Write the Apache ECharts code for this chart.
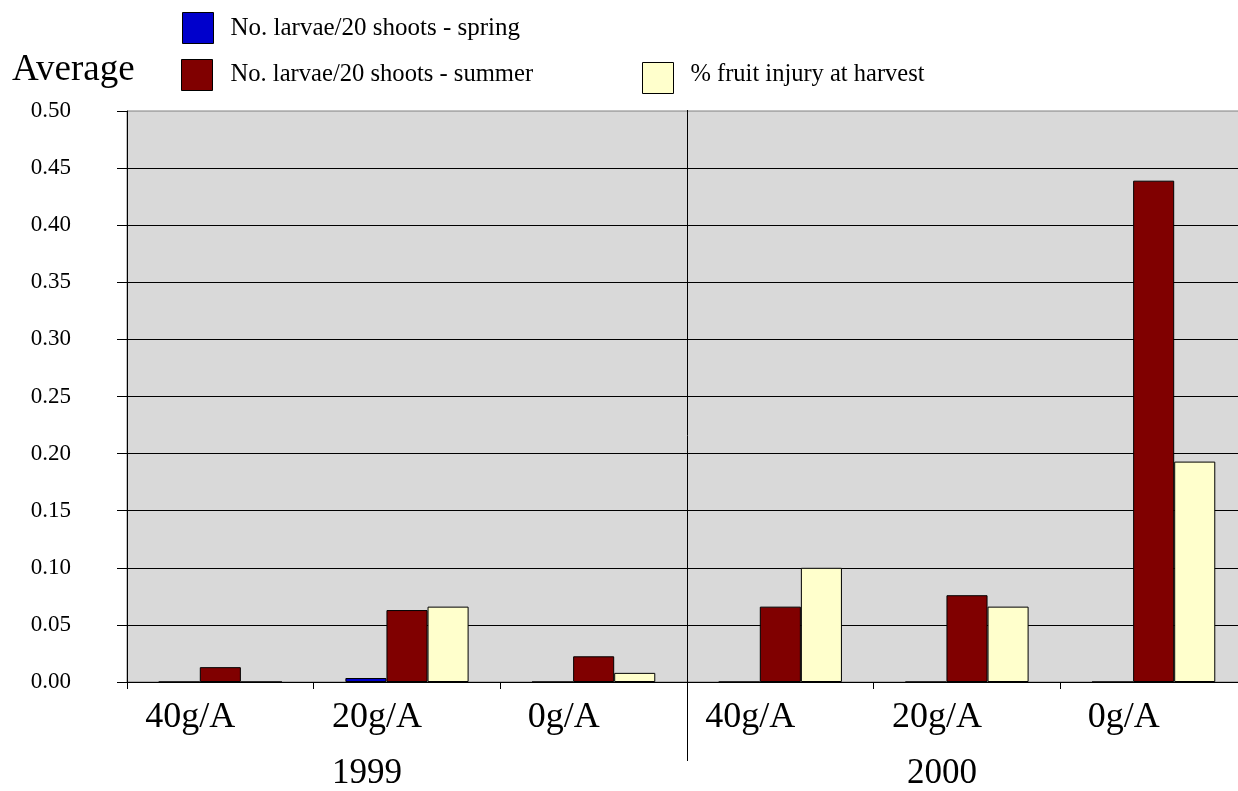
<!DOCTYPE html>
<html>
<head>
<meta charset="utf-8">
<script src="https://cdn.jsdelivr.net/npm/echarts@6/dist/echarts.min.js"></script>
<style>
html,body{margin:0;padding:0;background:#fff;overflow:hidden;}
#chart{width:1250px;height:791px;}
</style>
</head>
<body>
<div id="chart"></div>
<script>
const categories = ['40g/A', '20g/A', '0g/A', '40g/A', '20g/A', '0g/A'];
const years = ['1999', '2000'];
const seriesNames = ['No. larvae/20 shoots - spring', 'No. larvae/20 shoots - summer', '% fruit injury at harvest'];
const springValues = [0, 0.0035, 0, 0, 0, 0];
const summerValues = [0.013, 0.063, 0.0225, 0.066, 0.076, 0.439];
const fruitValues = [0, 0.066, 0.008, 0.100, 0.066, 0.193];
const yTicks = { min: 0, max: 0.5, interval: 0.05 };
const yTitle = 'Average';

const FONT = '"Liberation Serif", "Times New Roman", serif';
const chart = echarts.init(document.getElementById('chart'));

// group boundaries: start of first year, divider between years, end of last year
const groupBoundaries = [years[0], years[0] + '|' + years[1], years[1]];

function legendCfg(name, left, top, fontSize, pad) {
  return {
    data: [name], left: left, top: top, orient: 'horizontal',
    itemWidth: 31, itemHeight: 31, icon: 'rect', padding: 0,
    selectedMode: false,
    itemStyle: { borderColor: '#000', borderWidth: 1 },
    formatter: function (n) { return '{t|' + n + '}'; },
    textStyle: {
      fontFamily: FONT, fontSize: fontSize, color: '#000',
      rich: { t: { fontFamily: FONT, fontSize: fontSize, color: '#000', padding: pad } }
    }
  };
}

chart.setOption({
  animation: false,
  backgroundColor: '#fff',
  title: {
    text: yTitle, left: 12, top: 52, padding: 0,
    textStyle: { fontFamily: FONT, fontSize: 37, fontWeight: 'normal', color: '#000' }
  },
  grid: {
    left: 127, top: 111, width: 1120, height: 572,
    show: true, backgroundColor: '#d9d9d9', borderColor: '#808080', borderWidth: 1
  },
  legend: [
    legendCfg(seriesNames[0], 182, 12, 25, [0, 0, 0, 12]),
    legendCfg(seriesNames[1], 181, 59, 24.6, [0, 0, 0, 13]),
    legendCfg(seriesNames[2], 642, 62, 24.5, [0, 0, 6, 12])
  ],
  xAxis: [
    {
      type: 'category', data: categories, boundaryGap: true, position: 'bottom',
      axisLine: { show: true, lineStyle: { color: '#000', width: 1 } },
      axisTick: { show: true, length: 7, lineStyle: { color: '#000' } },
      axisLabel: { fontFamily: FONT, fontSize: 36, color: '#000', margin: 18, padding: [0, 60, 0, 0], interval: 0 }
    },
    {
      type: 'category', data: groupBoundaries, boundaryGap: false, position: 'bottom', offset: 79,
      axisLine: { show: false },
      axisTick: { show: true, inside: true, length: 651, interval: function (i) { return i === 1; }, lineStyle: { color: '#000', width: 1 } },
      axisLabel: { show: false }
    },
    {
      type: 'category',
      data: [
        { value: years[0], textStyle: { padding: [0, 80, 0, 0] } },
        { value: years[1], textStyle: { padding: [0, 50, 0, 0] } }
      ],
      boundaryGap: true, position: 'bottom', offset: 79,
      axisLine: { show: false }, axisTick: { show: false },
      axisLabel: { fontFamily: FONT, fontSize: 35, color: '#000', margin: -5, interval: 0 }
    }
  ],
  yAxis: {
    type: 'value', min: yTicks.min, max: yTicks.max, interval: yTicks.interval,
    axisLine: { show: true, lineStyle: { color: '#000', width: 1 } },
    axisTick: { show: true, length: 10, lineStyle: { color: '#000' } },
    axisLabel: { fontFamily: FONT, fontSize: 23, color: '#000', margin: 56, padding: [5, 0, 0, 0], formatter: function (v) { return v.toFixed(2); } },
    splitLine: { show: true, showMaxLine: false, lineStyle: { color: '#000', width: 1 } }
  },
  series: [
    { name: seriesNames[0], type: 'bar', data: springValues, barGap: '0%', barCategoryGap: '34%',
      itemStyle: { color: '#0000cc', borderColor: '#000', borderWidth: 1 } },
    { name: seriesNames[1], type: 'bar', data: summerValues, barGap: '0%', barCategoryGap: '34%',
      itemStyle: { color: '#800000', borderColor: '#000', borderWidth: 1 } },
    { name: seriesNames[2], type: 'bar', data: fruitValues, barGap: '0%', barCategoryGap: '34%',
      itemStyle: { color: '#ffffcc', borderColor: '#000', borderWidth: 1 } }
  ]
});
</script>
</body>
</html>
